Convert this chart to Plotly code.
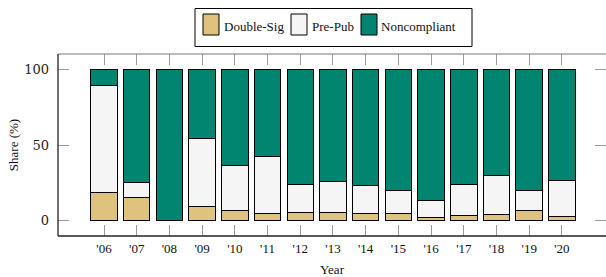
import plotly.graph_objects as go

years = ["'06", "'07", "'08", "'09", "'10", "'11", "'12", "'13", "'14", "'15", "'16", "'17", "'18", "'19", "'20"]
double_sig = [19.0, 15.5, 0.0, 9.4, 7.0, 4.6, 5.7, 5.3, 4.8, 4.6, 2.4, 3.7, 4.4, 6.6, 3.0]
pre_pub = [70.2, 9.9, 0.0, 44.7, 29.8, 38.1, 18.0, 20.6, 18.4, 15.3, 10.8, 20.0, 25.8, 13.7, 23.7]
noncompliant = [10.8, 74.6, 100.0, 45.9, 63.2, 57.3, 76.3, 74.1, 76.8, 80.1, 86.8, 76.3, 69.8, 79.7, 73.3]
y_ticks = [0, 50, 100]

series = [
    ("Double-Sig", double_sig, "#dfc27d"),
    ("Pre-Pub", pre_pub, "#f5f5f5"),
    ("Noncompliant", noncompliant, "#018571"),
]

fig = go.Figure()
for name, vals, col in series:
    fig.add_trace(go.Bar(
        x=years, y=vals, name=name, width=0.81,
        marker=dict(color=col, line=dict(color="black", width=1)),
    ))

W, H = 606, 277
L, R, T, B = 58, 0, 54, 41
pw = W - L - R
ph = H - T - B
spacing = 32.71
x0 = -(104 - 58) / spacing
x1 = x0 + pw / spacing


def px(x):
    return (x - L) / pw


def py(y):
    return (H - B - y) / ph


serif = "Liberation Serif"
fig.update_layout(
    width=W, height=H,
    margin=dict(l=L, r=R, t=T, b=B, pad=0, autoexpand=False),
    barmode="stack",
    plot_bgcolor="white", paper_bgcolor="white",
    font=dict(family=serif, size=13, color="#111"),
    showlegend=False,
    xaxis=dict(
        type="category", range=[x0, x1],
        ticks="inside", ticklen=11, tickcolor="#9a9a9a", tickwidth=1,
        mirror="ticks", showline=False, showgrid=False, zeroline=False,
        tickfont=dict(family=serif, size=13, color="#111"),
        ticklabelstandoff=3,
        title=dict(text="Year", font=dict(family=serif, size=13, color="#111"), standoff=9),
    ),
    yaxis=dict(
        range=[-10, 110], tickvals=y_ticks,
        ticks="inside", ticklen=11, tickcolor="#9a9a9a", tickwidth=1,
        mirror="ticks", showline=False, showgrid=False, zeroline=False,
        tickfont=dict(family="DejaVu Serif", size=13, color="#222"),
        ticklabelstandoff=8,
        title=dict(text="Share (%)", font=dict(family=serif, size=13, color="#111"), standoff=2),
    ),
)

# frame: left and bottom dark, top gray
fig.add_shape(type="line", xref="paper", yref="paper", x0=0, x1=1, y0=1, y1=1,
              line=dict(color="#7a7a7a", width=1.2), layer="above")
fig.add_shape(type="line", xref="paper", yref="paper", x0=0, x1=0, y0=0, y1=1,
              line=dict(color="#222", width=1.3), layer="above")
fig.add_shape(type="line", xref="paper", yref="paper", x0=0, x1=1, y0=0, y1=0,
              line=dict(color="#222", width=1.3), layer="above")

# legend box (drawn with shapes + text)
fig.add_shape(type="rect", xref="paper", yref="paper",
              x0=px(195), x1=px(472), y0=py(46.5), y1=py(8.5),
              line=dict(color="black", width=1), fillcolor="white", layer="above")
swatch_x = [203, 291, 361]
text_x = [225, 313, 382]
for (name, _, col), sx, tx in zip(series, swatch_x, text_x):
    fig.add_shape(type="rect", xref="paper", yref="paper",
                  x0=px(sx), x1=px(sx + 16), y0=py(35), y1=py(14),
                  line=dict(color="black", width=1), fillcolor=col, layer="above")
    fig.add_annotation(x=px(tx - 3), y=py(26), xref="paper", yref="paper",
                       text=name, showarrow=False, xanchor="left", yanchor="middle",
                       font=dict(family=serif, size=13, color="#111"))

fig.write_html("out.html", config={"displayModeBar": False},
               post_script="document.body.style.margin='0';")
